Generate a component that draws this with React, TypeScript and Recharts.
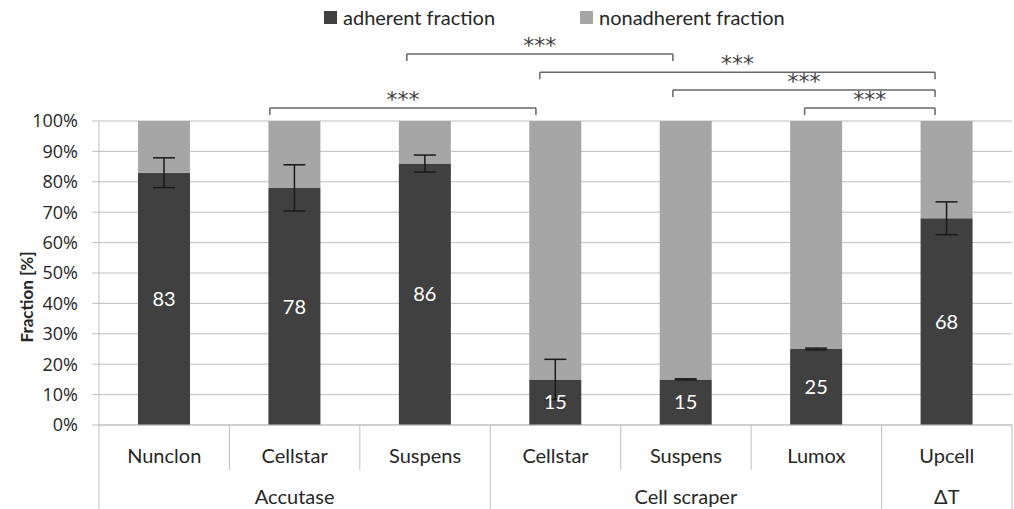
import React from 'react';
import {
  BarChart,
  Bar,
  XAxis,
  YAxis,
  CartesianGrid,
  Legend,
  ErrorBar,
  LabelList,
  ReferenceLine,
  Label,
} from 'recharts';

const categories = ['Nunclon', 'Cellstar', 'Suspens', 'Cellstar', 'Suspens', 'Lumox', 'Upcell'];
const groups = ['Accutase', 'Accutase', 'Accutase', 'Cell scraper', 'Cell scraper', 'Cell scraper', 'ΔT'];
const adherent = [83, 78, 86, 15, 15, 25, 68];
const adherentErr = [4.9, 7.6, 2.8, 6.6, 0.2, 0.3, 5.4];
const yTicks = [0, 10, 20, 30, 40, 50, 60, 70, 80, 90, 100];

// significance brackets: start / end in category units (0 = centre of first bar), height in %
const sigFrom = [0.81, 1.86, 2.88, 3.9, 4.91];
const sigTo = [2.85, 3.9, 5.91, 5.91, 5.91];
const sigLevel = [104.3, 122.0, 116.0, 110.2, 104.3];
const sigText = ['***', '***', '***', '***', '***'];

const W = 1014;
const H = 509;
const LEFT = 99;
const RIGHT = 2;
const BAND = (W - LEFT - RIGHT) / categories.length;

const DARK = '#404040';
const LIGHT = '#a6a6a6';
const GRID = '#bfbfbf';
const TEXT = '#262626';
const FONT = 'Lato, sans-serif';

const data = categories.map((c, i) => ({
  name: c,
  group: groups[i],
  adherent: adherent[i],
  nonadherent: 100 - adherent[i],
  err: adherentErr[i],
}));

const CatTick = (props: any) => {
  const { x, y, index } = props;
  const half = BAND / 2;
  const groupEnd = index === groups.length - 1 || groups[index] !== groups[index + 1];
  const groupIdx = groups.map((g, i) => i).filter((i) => groups[i] === groups[index]);
  const mid = groupIdx[Math.floor((groupIdx.length - 1) / 2)];
  return (
    <g>
      <text x={x} y={y + 38} textAnchor="middle" fill={TEXT} fontSize={20} fontFamily={FONT}>
        {categories[index]}
      </text>
      {index === 0 && <line x1={x - half} x2={x - half} y1={y} y2={H} stroke={GRID} />}
      <line x1={x + half} x2={x + half} y1={y} y2={groupEnd ? H : y + 45} stroke={GRID} />
      {index === mid && (
        <text x={x} y={y + 79} textAnchor="middle" fill={TEXT} fontSize={20} fontFamily={FONT}>
          {groups[index]}
        </text>
      )}
    </g>
  );
};

const PctTick = (props: any) => {
  const { x, y, payload } = props;
  return (
    <text
      x={x}
      y={y}
      dy="0.36em"
      textAnchor="end"
      fill={TEXT}
      fontSize={18}
      fontFamily="'Open Sans', sans-serif"
    >
      {`${payload.value}%`}
    </text>
  );
};

const YLabel = (props: any) => {
  const vb = props.viewBox;
  const cy = vb.y + vb.height / 2 + 24;
  return (
    <text
      x={33}
      y={cy}
      transform={`rotate(-90, 33, ${cy})`}
      textAnchor="middle"
      fill={TEXT}
      fontSize={17}
      fontWeight="bold"
      fontFamily={FONT}
    >
      Fraction [%]
    </text>
  );
};

const SigLabel = (props: any) => {
  const vb = props.viewBox;
  const cx = vb.x + vb.width / 2;
  return (
    <text x={cx} y={vb.y - 1} textAnchor="middle" fill="#404040" fontSize={22} fontFamily="'DejaVu Sans', sans-serif">
      {props.value}
    </text>
  );
};

const LegendBox = () => (
  <div style={{ display: 'flex', paddingLeft: 324, fontFamily: FONT, fontSize: 20, color: TEXT }}>
    <div style={{ display: 'flex', alignItems: 'center', width: 256 }}>
      <span style={{ width: 13, height: 13, background: DARK, marginRight: 6, display: 'inline-block' }} />
      adherent fraction
    </div>
    <div style={{ display: 'flex', alignItems: 'center' }}>
      <span style={{ width: 13, height: 13, background: LIGHT, marginRight: 6, display: 'inline-block' }} />
      nonadherent fraction
    </div>
  </div>
);

export default function App() {
  return (
    <div style={{ position: 'absolute', left: 0, top: 0, background: '#fff' }}>
      <BarChart
        width={W}
        height={H}
        data={data}
        margin={{ top: 97, right: RIGHT, bottom: 0, left: 0 }}
        barSize={52}
      >
        <Legend verticalAlign="top" content={<LegendBox />} wrapperStyle={{ top: 5, left: 0, width: W }} />
        <CartesianGrid vertical={false} stroke={GRID} />
        <XAxis
          dataKey="name"
          interval={0}
          height={84}
          tickLine={false}
          tickSize={0}
          tickMargin={0}
          axisLine={{ stroke: GRID }}
          tick={<CatTick />}
        />
        <XAxis
          xAxisId="pos"
          type="number"
          domain={[0, 6]}
          allowDataOverflow
          padding={{ left: BAND / 2, right: BAND / 2 }}
          hide
        />
        <YAxis
          width={LEFT}
          domain={[0, 100]}
          ticks={yTicks}
          tickSize={7}
          tickMargin={14}
          tickLine={{ stroke: GRID }}
          axisLine={{ stroke: GRID }}
          tick={<PctTick />}
        >
          <Label content={<YLabel />} />
        </YAxis>
        <Bar dataKey="adherent" stackId="a" fill={DARK} isAnimationActive={false}>
          <ErrorBar dataKey="err" width={11} strokeWidth={1.5} stroke="#1a1a1a" direction="y" />
          <LabelList dataKey="adherent" position="center" fill="#ffffff" fontSize={20} fontFamily={FONT} />
        </Bar>
        <Bar dataKey="nonadherent" stackId="a" fill={LIGHT} isAnimationActive={false} />
        {sigFrom.map((from, i) => {
          const to = sigTo[i];
          const lv = sigLevel[i];
          const style = { stroke: '#666666', strokeWidth: 1.5, ifOverflow: 'visible' as const, xAxisId: 'pos' };
          return (
            <React.Fragment key={i}>
              <ReferenceLine
                {...style}
                segment={[{ x: from, y: lv }, { x: to, y: lv }]}
                label={<SigLabel value={sigText[i]} />}
              />
              <ReferenceLine {...style} segment={[{ x: from, y: lv }, { x: from, y: lv - 2.3 }]} />
              <ReferenceLine {...style} segment={[{ x: to, y: lv }, { x: to, y: lv - 2.3 }]} />
            </React.Fragment>
          );
        })}
      </BarChart>
    </div>
  );
}
